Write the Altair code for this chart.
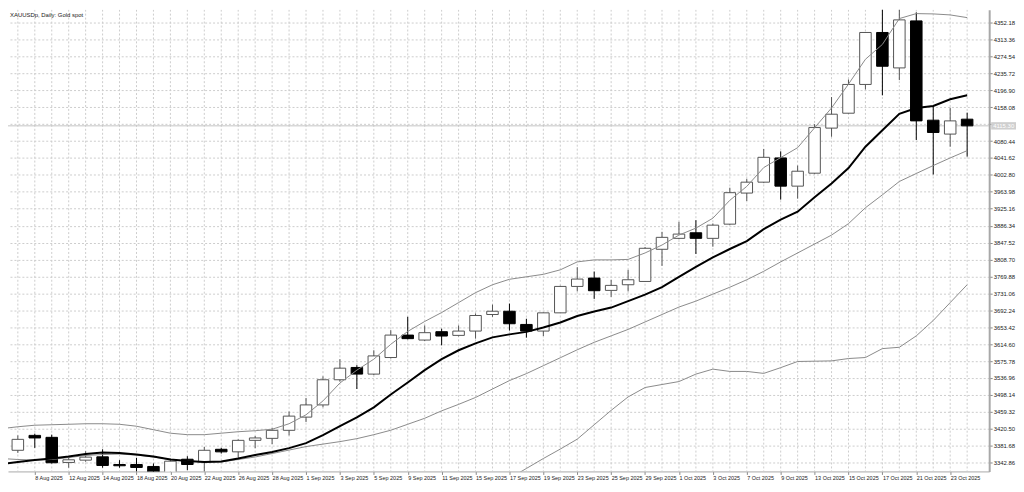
import json
import altair as alt
import pandas as pd

# ---------------- data ----------------
dates = ["6 Aug 2025", "7 Aug 2025", "8 Aug 2025", "11 Aug 2025", "12 Aug 2025", "13 Aug 2025",
         "14 Aug 2025", "15 Aug 2025", "18 Aug 2025", "19 Aug 2025", "20 Aug 2025", "21 Aug 2025",
         "22 Aug 2025", "25 Aug 2025", "26 Aug 2025", "27 Aug 2025", "28 Aug 2025", "29 Aug 2025",
         "1 Sep 2025", "2 Sep 2025", "3 Sep 2025", "4 Sep 2025", "5 Sep 2025", "8 Sep 2025",
         "9 Sep 2025", "10 Sep 2025", "11 Sep 2025", "12 Sep 2025", "15 Sep 2025", "16 Sep 2025",
         "17 Sep 2025", "18 Sep 2025", "19 Sep 2025", "22 Sep 2025", "23 Sep 2025", "24 Sep 2025",
         "25 Sep 2025", "26 Sep 2025", "29 Sep 2025", "30 Sep 2025", "1 Oct 2025", "2 Oct 2025",
         "3 Oct 2025", "6 Oct 2025", "7 Oct 2025", "8 Oct 2025", "9 Oct 2025", "10 Oct 2025",
         "13 Oct 2025", "14 Oct 2025", "15 Oct 2025", "16 Oct 2025", "17 Oct 2025", "20 Oct 2025",
         "21 Oct 2025", "22 Oct 2025", "23 Oct 2025", "24 Oct 2025"]

opens = [3381.7, 3371.0, 3405.2, 3400.7, 3343.1, 3348.4, 3356.0, 3338.4, 3338.4, 3333.9,
         3316.4, 3350.5, 3344.6, 3373.3, 3367.4, 3393.8, 3398.4, 3416.8, 3447.1, 3475.1,
         3532.8, 3561.0, 3545.8, 3583.8, 3635.3, 3623.9, 3643.1, 3634.6, 3644.5, 3682.5,
         3690.0, 3659.7, 3644.5, 3686.3, 3746.9, 3766.1, 3737.8, 3750.8, 3758.3, 3832.1,
         3857.2, 3870.0, 3857.2, 3889.8, 3961.1, 3986.1, 4041.7, 3977.0, 4006.7, 4110.1,
         4144.3, 4210.3, 4329.5, 4248.2, 4356.1, 4128.3, 4096.4, 4130.6]
highs = [3386.3, 3405.2, 3409.1, 3406.8, 3354.4, 3368.8, 3373.3, 3348.4, 3353.7, 3340.7,
         3352.1, 3357.4, 3378.8, 3376.5, 3396.1, 3403.8, 3422.1, 3459.9, 3491.1, 3540.5,
         3580.0, 3566.3, 3600.5, 3646.7, 3677.2, 3657.4, 3649.9, 3657.4, 3684.8, 3705.2,
         3707.5, 3672.7, 3687.0, 3748.5, 3791.1, 3781.1, 3762.2, 3785.0, 3837.4, 3872.2,
         3895.0, 3898.9, 3891.4, 3973.4, 3993.9, 4062.2, 4056.8, 4024.2, 4119.2, 4181.4,
         4221.7, 4330.2, 4383.5, 4384.8, 4375.7, 4160.9, 4157.0, 4145.6]
lows = [3363.5, 3365.1, 3376.5, 3340.7, 3331.0, 3344.6, 3331.0, 3331.0, 3321.8, 3314.1,
        3310.4, 3325.4, 3321.8, 3363.5, 3352.1, 3375.8, 3385.1, 3405.2, 3435.8, 3469.9,
        3528.3, 3511.6, 3543.5, 3581.5, 3625.5, 3621.6, 3611.8, 3632.3, 3627.1, 3677.2,
        3645.6, 3629.4, 3633.1, 3686.3, 3735.5, 3718.3, 3722.9, 3735.5, 3757.6, 3794.1,
        3855.0, 3821.4, 3838.0, 3888.0, 3942.9, 3983.9, 3946.1, 3948.3, 4004.5, 4090.3,
        4143.4, 4198.9, 4185.3, 4220.2, 4082.8, 4003.7, 4067.5, 4044.7]
closes = [3368.1, 3396.1, 3399.3, 3342.4, 3349.2, 3355.3, 3336.2, 3335.5, 3331.6, 3316.4,
          3346.0, 3338.4, 3371.0, 3367.4, 3393.8, 3399.3, 3416.8, 3449.4, 3475.1, 3532.8,
          3559.4, 3545.8, 3587.5, 3635.3, 3627.1, 3640.8, 3633.1, 3644.5, 3680.2, 3690.0,
          3661.3, 3644.5, 3686.3, 3746.9, 3763.8, 3737.1, 3749.3, 3762.2, 3834.4, 3859.5,
          3867.0, 3857.2, 3887.5, 3962.0, 3986.1, 4043.1, 3977.0, 4011.2, 4111.4, 4142.0,
          4210.3, 4329.5, 4252.0, 4358.4, 4126.7, 4100.1, 4126.7, 4115.3]

band_upper = [3420.5, 3425.0, 3428.5, 3429.6, 3430.7, 3431.9, 3431.9, 3430.7, 3426.2, 3418.2,
              3410.2, 3406.8, 3406.8, 3410.2, 3413.6, 3415.9, 3419.3, 3431.9, 3452.4, 3484.3,
              3525.3, 3554.9, 3580.0, 3614.1, 3643.7, 3666.5, 3687.0, 3709.8, 3732.6, 3750.8,
              3763.3, 3769.0, 3774.7, 3785.0, 3803.2, 3807.8, 3807.8, 3808.9, 3823.7, 3841.9,
              3864.7, 3880.7, 3903.4, 3944.5, 3976.4, 4019.6, 4042.4, 4065.2, 4110.8, 4156.3,
              4211.0, 4268.0, 4302.1, 4361.4, 4372.8, 4372.1, 4369.8, 4363.6]
ma_thick = [3339.6, 3344.1, 3348.7, 3352.1, 3356.7, 3362.4, 3365.8, 3364.7, 3361.3, 3356.7,
            3349.9, 3346.4, 3344.1, 3345.3, 3352.1, 3360.1, 3366.9, 3376.0, 3387.4, 3405.7,
            3426.2, 3446.7, 3469.5, 3499.1, 3526.4, 3554.9, 3580.0, 3600.5, 3616.4, 3630.1,
            3636.9, 3642.6, 3652.8, 3664.3, 3679.1, 3689.3, 3698.4, 3713.2, 3728.0, 3745.1,
            3769.0, 3791.8, 3813.4, 3832.8, 3851.0, 3878.4, 3900.0, 3918.3, 3951.3, 3983.2,
            4018.5, 4067.5, 4105.1, 4142.7, 4156.3, 4160.9, 4176.2, 4185.3]
ma_thin = [3352.1, 3349.9, 3348.7, 3349.9, 3354.4, 3359.0, 3361.3, 3362.4, 3360.1, 3355.6,
           3349.9, 3346.4, 3344.1, 3344.1, 3349.9, 3355.6, 3363.5, 3371.5, 3379.5, 3385.2,
           3390.9, 3397.7, 3406.8, 3417.0, 3430.7, 3444.4, 3461.5, 3476.3, 3492.2, 3511.6,
           3530.9, 3546.9, 3565.1, 3583.3, 3601.6, 3618.7, 3633.5, 3648.3, 3665.4, 3682.5,
           3699.6, 3713.2, 3729.2, 3745.1, 3762.2, 3781.6, 3803.2, 3823.7, 3844.2, 3864.7,
           3890.9, 3927.4, 3957.0, 3987.7, 4006.0, 4024.2, 4041.7, 4058.4]
band_lower = [None] * 14 + [3295.2, 3305.4, 3312.3, 3304.3, 3292.9] + [None] * 10 + \
             [3283.8, 3306.6, 3329.3, 3352.1, 3373.8, 3396.6, 3429.6, 3462.6, 3493.4, 3515.0,
              3521.9, 3528.7, 3545.8, 3557.2, 3551.9, 3551.9, 3547.4, 3560.6, 3574.7, 3575.4,
              3576.1, 3581.5, 3583.8, 3604.3, 3607.3, 3633.5, 3668.8, 3709.8, 3750.8]

price_ticks = [round(3342.86 + 38.82 * k, 2) for k in range(28)]
label_bars = list(range(2, 58, 2))
title_text = "XAUUSDp, Daily:  Gold spot"

# ---------------- layout ----------------
W, H = 988, 465
XDOM = [0.42, 58.3]
YDOM = [3322.5, 4381.9]
FONT = "Liberation Sans"
GRID = "#cdcdcd"

n = len(dates)
df = pd.DataFrame({"i": list(range(n)), "date": dates, "o": opens, "h": highs,
                   "l": lows, "c": closes})

rows = []
for name, arr in [("upper", band_upper), ("thick", ma_thick), ("thin", ma_thin), ("lower", band_lower)]:
    seg = 0
    prev_none = True
    for i, v in enumerate(arr):
        if v is None:
            prev_none = True
            continue
        if prev_none:
            seg += 1
        prev_none = False
        rows.append({"i": i, "v": v, "s": name, "seg": f"{name}{seg}"})
lines_df = pd.DataFrame(rows)

xscale = alt.Scale(domain=XDOM, nice=False, zero=False, padding=0)
yscale = alt.Scale(domain=YDOM, nice=False, zero=False, padding=0)

label_expr = json.dumps(dates) + "[datum.value]"
y_values = [v for v in price_ticks if YDOM[0] <= v <= YDOM[1]]

x_axis = alt.Axis(values=label_bars, labelExpr=label_expr, orient="bottom", grid=False,
                  labelAlign="left", labelPadding=1, labelFontSize=5.5, labelFont=FONT,
                  labelColor="#222", tickSize=3, tickColor="#888", domainColor="#a8a8a8",
                  labelOverlap=False, labelBound=False, labelFlush=False, title=None)
y_axis = alt.Axis(values=y_values, format=".2f", orient="right", grid=True,
                  gridColor=GRID, gridDash=[2, 2], labelFontSize=6, labelFont=FONT,
                  labelColor="#222", labelPadding=1, tickSize=3, tickColor="#888",
                  domainColor="#a8a8a8", domainWidth=2, labelOverlap=False,
                  labelBound=False, labelFlush=False, title=None)


def X(f):
    return alt.X(f, scale=xscale, axis=x_axis)


def Y(f):
    return alt.Y(f, scale=yscale, axis=y_axis)


base = alt.Chart(df)

vgrid = base.mark_rule(color=GRID, strokeDash=[2, 2], strokeWidth=1, clip=True).encode(
    x=X("i:Q")
)

last = df.tail(1)
price_line = alt.Chart(last).mark_rule(color="#c4c4c4", strokeWidth=1, clip=True).encode(
    y=Y("c:Q")
)

wicks = base.mark_rule(strokeWidth=1, clip=True).encode(
    x=X("i:Q"),
    y=Y("l:Q"),
    y2="h:Q",
    color=alt.condition("datum.c >= datum.o", alt.value("#555555"), alt.value("#000000")),
)

bodies = base.transform_calculate(
    x0="datum.i - 0.34", x1="datum.i + 0.34",
    top="max(datum.o, datum.c)", bot="min(datum.o, datum.c)",
).mark_bar(strokeWidth=1, clip=True).encode(
    x=X("x0:Q"),
    x2="x1:Q",
    y=Y("bot:Q"),
    y2="top:Q",
    fill=alt.condition("datum.c >= datum.o", alt.value("#ffffff"), alt.value("#000000")),
    stroke=alt.condition("datum.c >= datum.o", alt.value("#555555"), alt.value("#000000")),
)


def line_layer(name, color, width):
    return alt.Chart(lines_df).transform_filter(f"datum.s == '{name}'").mark_line(
        color=color, strokeWidth=width, clip=True
    ).encode(
        x=X("i:Q"),
        y=Y("v:Q"),
        detail="seg:N",
        order="i:Q",
    )


lower_l = line_layer("lower", "#8a8a8a", 1)
thin_l = line_layer("thin", "#8a8a8a", 1)
upper_l = line_layer("upper", "#8a8a8a", 1)
thick_l = line_layer("thick", "#000000", 2)

# current price box on the price scale
price_box = alt.Chart(last).transform_calculate(
    yl="datum.c - 8.5", yh="datum.c + 8.5"
).mark_rect(color="#cfcfcf").encode(
    x=alt.value(W + 2), x2=alt.value(W + 27),
    y=Y("yl:Q"), y2="yh:Q",
)
price_txt = alt.Chart(last).transform_calculate(
    lab="format(datum.c, '.2f')"
).mark_text(align="left", baseline="middle", fontSize=6, font=FONT, color="#ffffff").encode(
    x=alt.value(W + 4), y=Y("c:Q"), text="lab:N",
)

title = alt.Chart(df.head(1)).transform_calculate(t=f"'{title_text}'").mark_text(
    align="left", baseline="top", fontSize=6, font=FONT, color="#222"
).encode(x=alt.value(2), y=alt.value(2), text="t:N")

chart = alt.layer(
    vgrid, price_line, wicks, bodies,
    lower_l, thin_l, upper_l, thick_l,
    price_box, price_txt, title,
).properties(
    width=W, height=H, padding=0, background="white"
).configure_view(stroke=None).configure_axis(labelOverlap=False)

chart.save("out.html", embed_options={"renderer": "svg", "actions": False})
